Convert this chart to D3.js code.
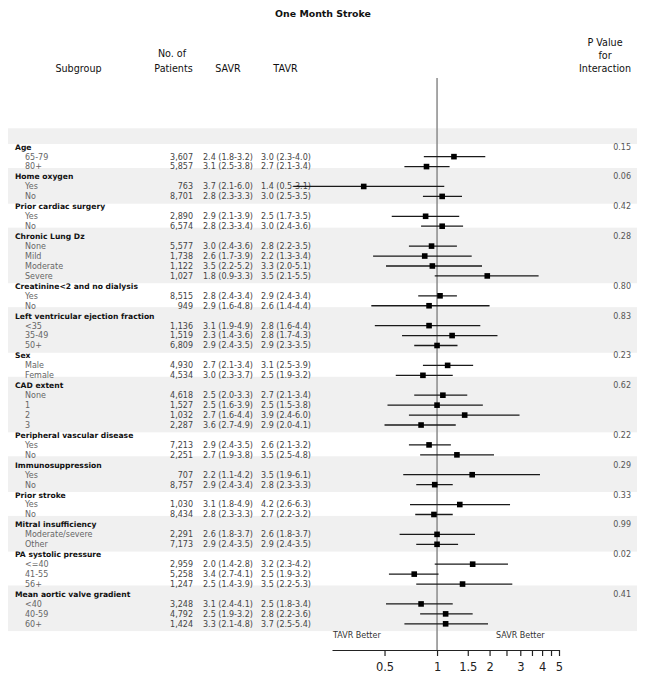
<!DOCTYPE html>
<html>
<head>
<meta charset="utf-8">
<script src="https://cdn.jsdelivr.net/npm/d3@7"></script>
<style>
  html, body { margin: 0; padding: 0; background: #fff; }
  svg { display: block; }
  text { font-family: "DejaVu Sans", Verdana, sans-serif; }
</style>
</head>
<body>
<svg id="chart" width="646" height="682"></svg>
<script>
// ---------- data ----------
const groups = ["Age", "Home oxygen", "Prior cardiac surgery", "Chronic Lung Dz",
  "Creatinine<2 and no dialysis", "Left ventricular ejection fraction", "Sex", "CAD extent",
  "Peripheral vascular disease", "Immunosuppression", "Prior stroke", "Mitral insufficiency",
  "PA systolic pressure", "Mean aortic valve gradient"];
const pValues = ["0.15", "0.06", "0.42", "0.28", "0.80", "0.83", "0.23", "0.62",
  "0.22", "0.29", "0.33", "0.99", "0.02", "0.41"];
const rowGroup = [0,0, 1,1, 2,2, 3,3,3,3, 4,4, 5,5,5, 6,6, 7,7,7,7, 8,8, 9,9, 10,10, 11,11, 12,12,12, 13,13,13];
const rowLabels = ["65-79","80+", "Yes","No", "Yes","No", "None","Mild","Moderate","Severe",
  "Yes","No", "<35","35-49","50+", "Male","Female", "None","1","2","3", "Yes","No",
  "Yes","No", "Yes","No", "Moderate/severe","Other", "<=40","41-55","56+", "<40","40-59","60+"];
const patients = ["3,607","5,857", "763","8,701", "2,890","6,574", "5,577","1,738","1,122","1,027",
  "8,515","949", "1,136","1,519","6,809", "4,930","4,534", "4,618","1,527","1,032","2,287",
  "7,213","2,251", "707","8,757", "1,030","8,434", "2,291","7,173", "2,959","5,258","1,247",
  "3,248","4,792","1,424"];
const savr = ["2.4 (1.8-3.2)","3.1 (2.5-3.8)", "3.7 (2.1-6.0)","2.8 (2.3-3.3)", "2.9 (2.1-3.9)","2.8 (2.3-3.4)",
  "3.0 (2.4-3.6)","2.6 (1.7-3.9)","3.5 (2.2-5.2)","1.8 (0.9-3.3)", "2.8 (2.4-3.4)","2.9 (1.6-4.8)",
  "3.1 (1.9-4.9)","2.3 (1.4-3.6)","2.9 (2.4-3.5)", "2.7 (2.1-3.4)","3.0 (2.3-3.7)",
  "2.5 (2.0-3.3)","2.5 (1.6-3.9)","2.7 (1.6-4.4)","3.6 (2.7-4.9)", "2.9 (2.4-3.5)","2.7 (1.9-3.8)",
  "2.2 (1.1-4.2)","2.9 (2.4-3.4)", "3.1 (1.8-4.9)","2.8 (2.3-3.3)", "2.6 (1.8-3.7)","2.9 (2.4-3.5)",
  "2.0 (1.4-2.8)","3.4 (2.7-4.1)","2.5 (1.4-3.9)", "3.1 (2.4-4.1)","2.5 (1.9-3.2)","3.3 (2.1-4.8)"];
const tavr = ["3.0 (2.3-4.0)","2.7 (2.1-3.4)", "1.4 (0.5-3.1)","3.0 (2.5-3.5)", "2.5 (1.7-3.5)","3.0 (2.4-3.6)",
  "2.8 (2.2-3.5)","2.2 (1.3-3.4)","3.3 (2.0-5.1)","3.5 (2.1-5.5)", "2.9 (2.4-3.4)","2.6 (1.4-4.4)",
  "2.8 (1.6-4.4)","2.8 (1.7-4.3)","2.9 (2.3-3.5)", "3.1 (2.5-3.9)","2.5 (1.9-3.2)",
  "2.7 (2.1-3.4)","2.5 (1.5-3.8)","3.9 (2.4-6.0)","2.9 (2.0-4.1)", "2.6 (2.1-3.2)","3.5 (2.5-4.8)",
  "3.5 (1.9-6.1)","2.8 (2.3-3.3)", "4.2 (2.6-6.3)","2.7 (2.2-3.2)", "2.6 (1.8-3.7)","2.9 (2.4-3.5)",
  "3.2 (2.3-4.2)","2.5 (1.9-3.2)","3.5 (2.2-5.3)", "2.5 (1.8-3.4)","2.8 (2.2-3.6)","3.7 (2.5-5.4)"];
const estimate = [1.25,0.87, 0.38,1.07, 0.86,1.07, 0.93,0.85,0.94,1.94, 1.04,0.90, 0.90,1.22,1.00,
  1.15,0.83, 1.08,1.00,1.44,0.81, 0.90,1.30, 1.59,0.97, 1.35,0.96, 1.00,1.00, 1.60,0.74,1.40, 0.81,1.12,1.12];
const lower = [0.84,0.65, 0.15,0.83, 0.55,0.81, 0.69,0.43,0.51,0.97, 0.78,0.42, 0.44,0.63,0.74,
  0.83,0.58, 0.74,0.52,0.69,0.50, 0.69,0.80, 0.64,0.76, 0.70,0.75, 0.61,0.76, 0.97,0.53,0.76, 0.51,0.80,0.65];
const upper = [1.89,1.18, 1.10,1.39, 1.34,1.41, 1.30,1.58,1.81,3.82, 1.30,2.00, 1.77,2.22,1.31,
  1.61,1.23, 1.49,1.83,2.97,1.28, 1.20,2.12, 3.89,1.23, 2.62,1.23, 1.65,1.32, 2.55,1.02,2.70, 1.23,1.60,1.96];
const tickValues = [0.5, 1, 1.5, 2, 2.5, 3, 3.5, 4, 4.5, 5];
const tickLabels = ["0.5", "1", "1.5", "2", "", "3", "", "4", "", "5"];
const title = "One Month Stroke";

// ---------- build rows ----------
const rows = [];
groups.forEach((g, gi) => {
  rows.push({ type: "header", gi });
  rowGroup.forEach((rg, ri) => { if (rg === gi) rows.push({ type: "row", gi, ri }); });
});

const svg = d3.select("#chart");
const x = d3.scaleLog().domain([0.25, 5]).range([332, 559]);
const y = d3.scaleLinear().domain([-1, rows.length - 1]).range([136.76, 136.76 + 9.94 * rows.length]);

// ---------- bands ----------
const bandG = svg.append("g");
bandG.append("rect").attr("x", 8).attr("width", 629)
  .attr("y", y(-1) - 8.5).attr("height", 15.8).attr("fill", "#f0f0f0");
groups.forEach((g, gi) => {
  if (gi % 2 === 1) {
    const idx = rows.map((r, i) => r.gi === gi ? i : -1).filter(i => i >= 0);
    const top = y(idx[0]) - 8.5, bot = y(idx[idx.length - 1]) + 7.3;
    bandG.append("rect").attr("x", 8).attr("width", 629)
      .attr("y", top).attr("height", bot - top).attr("fill", "#f0f0f0");
  }
});

// ---------- title & headers ----------
svg.append("text").attr("x", 323).attr("y", 17).attr("text-anchor", "middle")
  .attr("font-size", 9.4).attr("font-weight", "bold").attr("fill", "#111").text(title);
const hdr = [
  ["Subgroup", 78.5, 71.5], ["No. of", 172, 56.5], ["Patients", 173.5, 71.5],
  ["SAVR", 228, 71.5], ["TAVR", 285.5, 71.5],
  ["P Value", 605, 45.5], ["for", 605, 58.5], ["Interaction", 605, 71.5]
];
svg.append("g").selectAll("text").data(hdr).join("text")
  .attr("x", d => d[1]).attr("y", d => d[2]).attr("text-anchor", "middle")
  .attr("font-size", 9.6).attr("fill", "#111").text(d => d[0]);

// ---------- row text ----------
const tg = svg.append("g").attr("font-size", 8);
rows.forEach((r, i) => {
  const yy = y(i) + 2.9;
  if (r.type === "header") {
    tg.append("text").attr("x", 15).attr("y", yy).attr("font-weight", "bold")
      .attr("font-size", 7.6).attr("fill", "#111").text(groups[r.gi]);
    tg.append("text").attr("x", 631).attr("y", yy).attr("text-anchor", "end")
      .attr("fill", "#555").text(pValues[r.gi]);
  } else {
    tg.append("text").attr("x", 25).attr("y", yy).attr("fill", "#666").text(rowLabels[r.ri]);
    tg.append("text").attr("x", 193).attr("y", yy).attr("text-anchor", "end").attr("fill", "#444").text(patients[r.ri]);
    tg.append("text").attr("x", 203).attr("y", yy).attr("fill", "#444").text(savr[r.ri]);
    tg.append("text").attr("x", 261).attr("y", yy).attr("fill", "#444").text(tavr[r.ri]);
  }
});

// ---------- reference line ----------
svg.append("line").attr("x1", x(1)).attr("x2", x(1)).attr("y1", 78).attr("y2", 651)
  .attr("stroke", "#8a8a8a").attr("stroke-width", 1.5);

// ---------- CI & points ----------
const mg = svg.append("g");
const dataRows = rows.map((r, i) => ({ ...r, i })).filter(r => r.type === "row");
mg.selectAll("line.ci").data(dataRows).join("line").attr("class", "ci")
  .attr("x1", d => x(lower[d.ri])).attr("x2", d => x(upper[d.ri]))
  .attr("y1", d => y(d.i)).attr("y2", d => y(d.i))
  .attr("stroke", "#1a1a1a").attr("stroke-width", 1.3);
const sq = 5.6;
mg.selectAll("rect.pt").data(dataRows).join("rect").attr("class", "pt")
  .attr("x", d => x(estimate[d.ri]) - sq / 2).attr("y", d => y(d.i) - sq / 2)
  .attr("width", sq).attr("height", sq).attr("fill", "#000");

// ---------- better labels ----------
svg.append("text").attr("x", 333).attr("y", 638).attr("font-size", 8).attr("fill", "#333").text("TAVR Better");
svg.append("text").attr("x", 496).attr("y", 638).attr("font-size", 8).attr("fill", "#333").text("SAVR Better");

// ---------- axis ----------
const axis = d3.axisBottom(x).tickValues(tickValues)
  .tickFormat((d, i) => tickLabels[i]).tickSize(6).tickSizeOuter(0);
const ag = svg.append("g").attr("transform", "translate(0,650)").call(axis);
ag.select(".domain").attr("stroke", "#222").attr("stroke-width", 1.2);
ag.selectAll(".tick line").attr("stroke", "#222").attr("stroke-width", 1.2);
ag.selectAll(".tick text").attr("font-size", 11.5).attr("fill", "#222")
  .attr("font-family", "DejaVu Sans, sans-serif").attr("dy", "0.9em").attr("y", 11);
</script>
</body>
</html>
